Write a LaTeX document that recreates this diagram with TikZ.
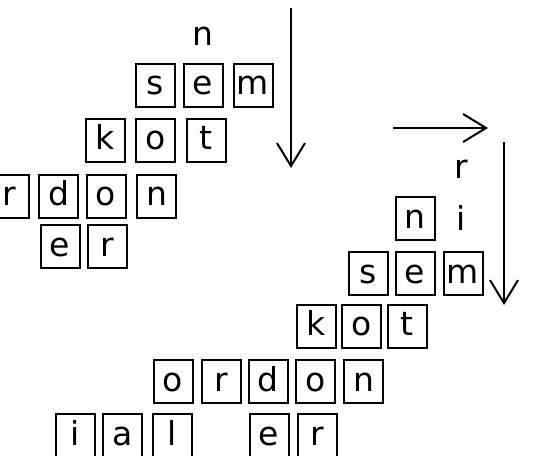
\documentclass[tikz,border=0pt]{standalone}
\usepackage{fontspec}
\newfontfamily\lf{DejaVu Sans}
\usetikzlibrary{arrows.meta}
\tikzset{
  bx/.style={draw, line width=2pt, minimum width=39pt, inner sep=0pt,
    text height=31pt, text depth=12pt, font=\lf\fontsize{33}{33}\selectfont},
  lt/.style={inner sep=0pt, anchor=base, font=\lf\fontsize{33}{33}\selectfont},
  arr/.style={line width=2pt, -{Straight Barb[length=23pt,width=28pt,line width=2pt]}}
}
\begin{document}
\begin{tikzpicture}[x=1pt,y=-1pt]
\useasboundingbox (0,0) rectangle (534,455);
\clip (0,0) rectangle (534,455);
% left group
\node[lt] (Ln) at (203,45) {n};
\node[bx] (L1s) at (155.5,85) {s};
\node[bx] (L1e) at (203,85) {e};
\node[bx] (L1m) at (253,85) {m};
\node[bx] (L2k) at (105,140) {k};
\node[bx] (L2o) at (155.5,140) {o};
\node[bx] (L2t) at (206,140) {t};
\node[bx] (L3r) at (9,196) {r};
\node[bx] (L3d) at (58.5,196) {d};
\node[bx] (L3o) at (106,196) {o};
\node[bx] (L3n) at (156.5,196) {n};
\node[bx] (L4e) at (60,246.5) {e};
\node[bx] (L4r) at (107,246.5) {r};
% right group
\node[lt] (Rr) at (461,178) {r};
\node[lt] (Ri) at (461,230) {i};
\node[bx] (R0n) at (415,218.5) {n};
\node[bx] (R1s) at (368.5,273.5) {s};
\node[bx] (R1e) at (415,273.5) {e};
\node[bx] (R1m) at (463,273.5) {m};
\node[bx] (R2k) at (316,326) {k};
\node[bx] (R2o) at (361.5,326) {o};
\node[bx] (R2t) at (407,326) {t};
\node[bx] (R3o) at (173,381.5) {o};
\node[bx] (R3r) at (221,381.5) {r};
\node[bx] (R3d) at (268,381.5) {d};
\node[bx] (R3o2) at (315.5,381.5) {o};
\node[bx] (R3n) at (363.5,381.5) {n};
\node[bx] (R4i) at (75.5,435.5) {i};
\node[bx] (R4a) at (122.5,435.5) {a};
\node[bx] (R4l) at (172.5,435.5) {l};
\node[bx] (R4e) at (269,435.5) {e};
\node[bx] (R4r) at (317.5,435.5) {r};
% arrows
\coordinate (a1s) at (291,8);
\coordinate (a1e) at (291,168);
\coordinate (a2s) at (393,128);
\coordinate (a2e) at (488,128);
\coordinate (a3s) at (504,142);
\coordinate (a3e) at (504,305);
\draw[arr] (a1s) -- (a1e);
\draw[arr] (a2s) -- (a2e);
\draw[arr] (a3s) -- (a3e);
\end{tikzpicture}
\end{document}
